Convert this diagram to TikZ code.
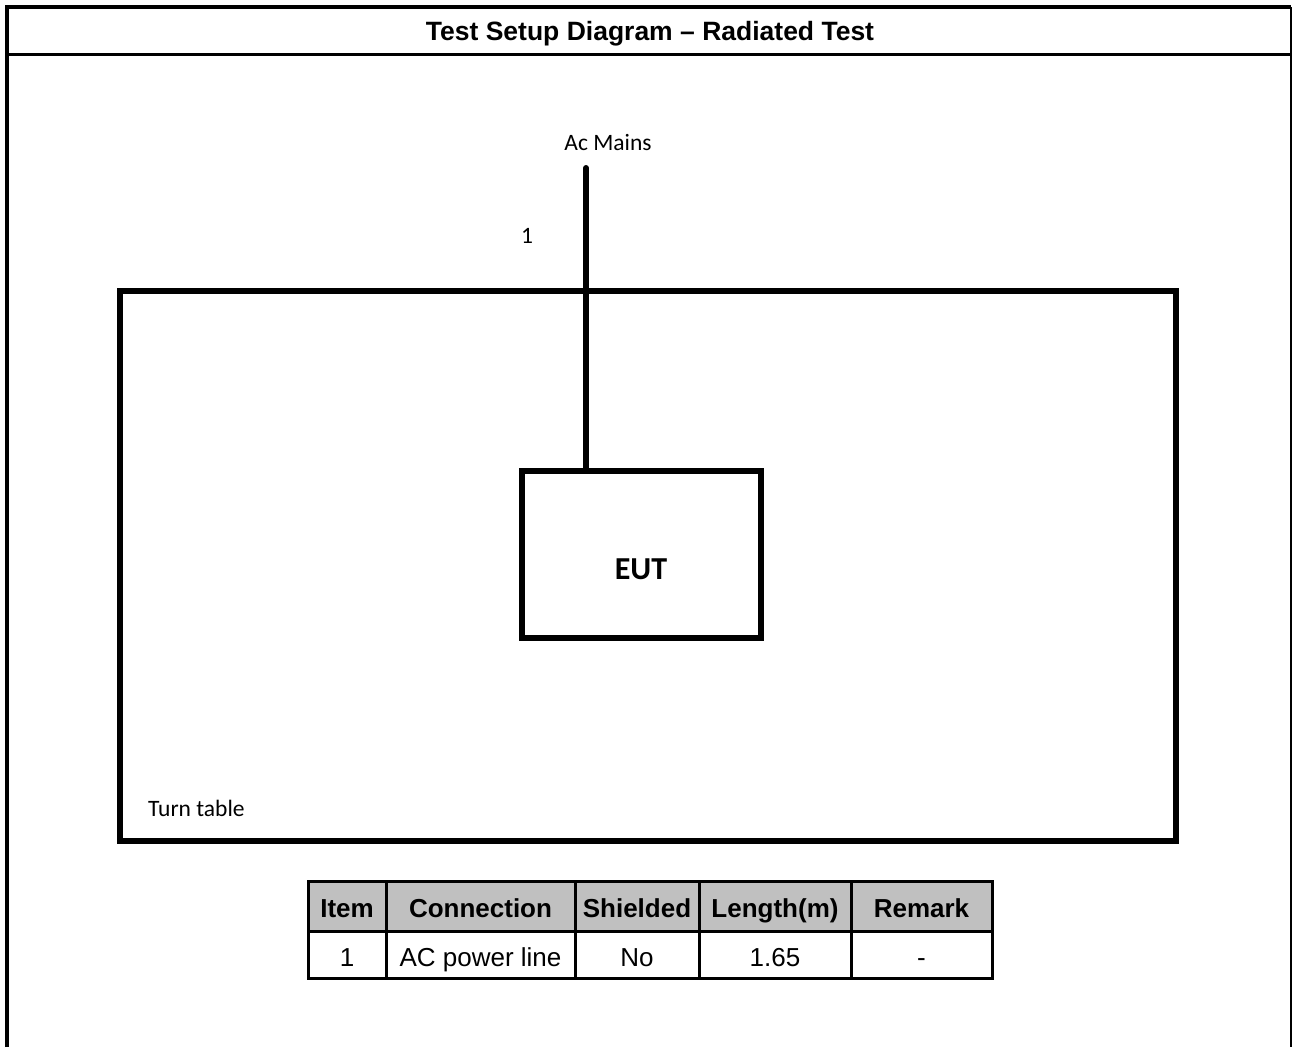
\documentclass[tikz,border=0pt]{standalone}
\usepackage{fontspec}
\setmainfont{Liberation Sans}
\newfontfamily\calibri{Carlito}
\usepackage{tikz}
\usetikzlibrary{positioning,calc}
\usepackage{xcolor}
\definecolor{HeadGray}{HTML}{C0C0C0}

\begin{document}
\begin{tikzpicture}[x=1pt, y=-1pt,
    frame/.style={draw=black, line width=4pt},
    box/.style={draw=black, line width=6pt, rectangle, inner sep=0pt},
    cable/.style={draw=black, line width=6pt, line cap=round},
    lbl/.style={font=\calibri\fontsize{23.5}{27}\selectfont, inner sep=0pt},
    grid/.style={draw=black, line width=3pt},
    hcell/.style={font=\fontsize{26}{30}\selectfont\bfseries, inner sep=0pt, anchor=base},
    cell/.style={font=\fontsize{26}{30}\selectfont, inner sep=0pt, anchor=base}
  ]
    \useasboundingbox (0,0) rectangle (1293,1047);
    \fill[white] (0,0) rectangle (1293,1047);

    % outer frame and title bar
    \draw[frame] (7,1047) -- (7,7) -- (1291,7);
    \draw[draw=black, line width=2.5pt] (1291,7) -- (1291,1047);
    \draw[draw=black, line width=3pt] (7,54.5) -- (1291,54.5);
    \node[hcell, font=\fontsize{26.5}{30}\selectfont\bfseries] (title) at (650,40) {Test Setup Diagram \textendash{} Radiated Test};

    % turn table and EUT
    \node[box, minimum width=1056pt, minimum height=550pt] (turntable) at (648,566) {};
    \node[lbl, anchor=west] (ttlabel) at (148,808) {Turn table};
    \node[box, minimum width=239pt, minimum height=167pt] (eut) at (641.5,554.5) {};
    \node[font=\calibri\fontsize{32}{36}\selectfont\bfseries, inner sep=0pt] (eutlabel) at (641,569) {EUT};

    % AC mains cable
    \coordinate (mains) at (586,168);
    \node[lbl] (mainslabel) at (608,142) {Ac Mains};
    \node[lbl] (cableno) at (527,236) {1};
    \draw[cable] (mains) -- (eut.north -| mains);

    % cable table
    \fill[HeadGray] (308,881) rectangle (992,931);
    \draw[grid] (308,881) rectangle (992,978);
    \draw[grid] (308,931) -- (992,931);
    \foreach \x in {386,575,699,851}
      \draw[grid] (\x,881) -- (\x,978);

    \node[hcell] (hitem) at (347,917) {Item};
    \node[hcell] (hconn) at (480.5,917) {Connection};
    \node[hcell] (hshield) at (637,917) {Shielded};
    \node[hcell] (hlen) at (775,917) {Length(m)};
    \node[hcell] (hremark) at (921.5,917) {Remark};

    \node[cell] (citem) at (347,966) {1};
    \node[cell] (cconn) at (480.5,966) {AC power line};
    \node[cell] (cshield) at (637,966) {No};
    \node[cell] (clen) at (775,966) {1.65};
    \node[cell] (cremark) at (921.5,966) {-};
  \end{tikzpicture}
\end{document}
